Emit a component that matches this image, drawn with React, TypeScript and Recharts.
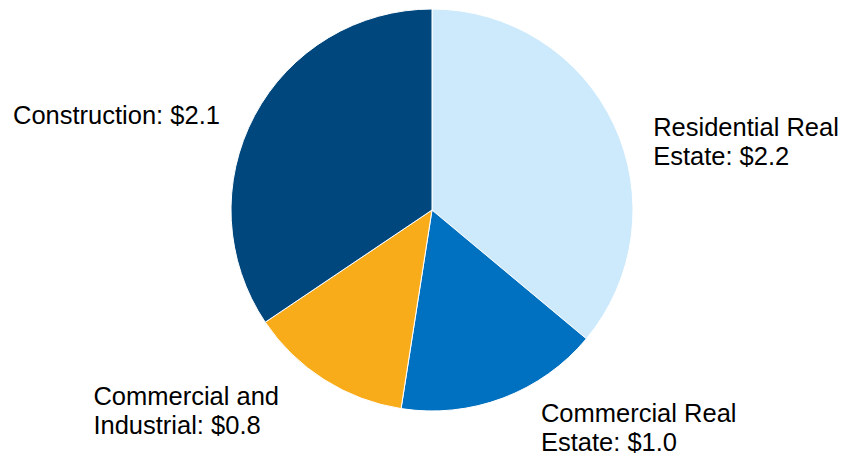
import { PieChart, Pie, Cell } from 'recharts'

const categories = ['Residential Real Estate', 'Commercial Real Estate', 'Commercial and Industrial', 'Construction']
const values = [2.2, 1.0, 0.8, 2.1]
const labelLines = [
  ['Residential Real', 'Estate: $2.2'],
  ['Commercial Real', 'Estate: $1.0'],
  ['Commercial and', 'Industrial: $0.8'],
  ['Construction: $2.1'],
]
const colors = ['#cdeafc', '#0070c0', '#f8ac1a', '#00477d']

// label placement tweaks, relative to a point just outside the slice
const labelOffsets = [
  { dx: 21, dy: 20, anchor: 'start' },
  { dx: 31, dy: 5, anchor: 'start' },
  { dx: -220, dy: 9, anchor: 'start' },
  { dx: -17, dy: 18, anchor: 'end' },
]

const data = categories.map((name, i) => ({ name, value: values[i] }))

const RADIAN = Math.PI / 180

const renderLabel = (props: any) => {
  const { cx, cy, midAngle, outerRadius, index } = props
  const r = outerRadius + 20
  const x = cx + r * Math.cos(-midAngle * RADIAN) + labelOffsets[index].dx
  const y = cy + r * Math.sin(-midAngle * RADIAN) + labelOffsets[index].dy
  return (
    <text
      x={x}
      y={y}
      textAnchor={labelOffsets[index].anchor}
      fill="#000"
      fontSize={25.5}
      fontFamily="'Liberation Sans', Arial, sans-serif"
    >
      {labelLines[index].map((line, j) => (
        <tspan key={j} x={x} dy={j === 0 ? 0 : 29}>
          {line}
        </tspan>
      ))}
    </text>
  )
}

export default function App() {
  return (
    <div style={{ position: 'fixed', left: 0, top: 0, width: 846, height: 459, background: '#fff' }}>
      <PieChart width={846} height={459} margin={{ top: 0, right: 0, bottom: 0, left: 0 }}>
        <Pie
          data={data}
          dataKey="value"
          nameKey="name"
          cx={432}
          cy={210}
          outerRadius={201}
          startAngle={90}
          endAngle={-270}
          stroke="#fff"
          strokeWidth={1}
          label={renderLabel}
          labelLine={false}
          isAnimationActive={false}
        >
          {data.map((entry, i) => (
            <Cell key={`cell-${i}`} fill={colors[i]} />
          ))}
        </Pie>
      </PieChart>
    </div>
  )
}
